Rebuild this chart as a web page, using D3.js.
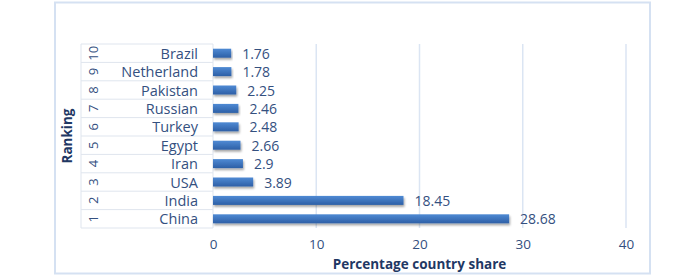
<!DOCTYPE html>
<html>
<head>
<meta charset="utf-8">
<script src="https://cdn.jsdelivr.net/npm/d3@7"></script>
<style>
  html, body { margin: 0; padding: 0; background: #fff; }
  svg { display: block; font-family: "Open Sans", sans-serif; }
</style>
</head>
<body>
<div id="chart"></div>
<script>
// dados (ranking 1 = China, embaixo)
const ranks = [1, 2, 3, 4, 5, 6, 7, 8, 9, 10];
const countries = ['China', 'India', 'USA', 'Iran', 'Egypt', 'Turkey', 'Russian', 'Pakistan', 'Netherland', 'Brazil'];
const shares = [28.68, 18.45, 3.89, 2.9, 2.66, 2.48, 2.46, 2.25, 1.78, 1.76];
const xTicks = [0, 10, 20, 30, 40];

const W = 700, H = 277;
const TEXT = '#34507f';
const TITLE = '#1f3864';
const plot = { left: 213, right: 626, top: 44, bottom: 228 };
const tableLeft = 81;

const svg = d3.select('#chart').append('svg').attr('width', W).attr('height', H);

// sombra dos bars + gradiente
const defs = svg.append('defs');
const grad = defs.append('linearGradient').attr('id', 'barGrad')
  .attr('x1', 0).attr('y1', 0).attr('x2', 0).attr('y2', 1);
grad.append('stop').attr('offset', '0%').attr('stop-color', '#4f8ad4');
grad.append('stop').attr('offset', '100%').attr('stop-color', '#2d5fa6');
const sh = defs.append('filter').attr('id', 'barShadow')
  .attr('x', '-5%').attr('y', '-30%').attr('width', '115%').attr('height', '190%');
sh.append('feDropShadow').attr('dx', 1).attr('dy', 2).attr('stdDeviation', 1.2)
  .attr('flood-color', '#000').attr('flood-opacity', 0.35);

// borda externa
svg.append('rect').attr('x', 55).attr('y', 2.5).attr('width', 595).attr('height', 271)
  .attr('fill', '#fff').attr('stroke', '#d5e1f2').attr('stroke-width', 2);

const x = d3.scaleLinear().domain([0, 40]).range([plot.left, plot.right]);
const y = d3.scaleBand().domain(ranks).range([plot.bottom, plot.top]).paddingInner(0).paddingOuter(0);
const barH = 9;

// gridlines verticais
svg.append('g').selectAll('line').data(xTicks.filter(d => d > 0)).join('line')
  .attr('x1', d => x(d)).attr('x2', d => x(d))
  .attr('y1', plot.top).attr('y2', plot.bottom)
  .attr('stroke', '#dbe5f3').attr('stroke-width', 1.5);

// tabela de categorias (rank + pais)
const table = svg.append('g');
table.selectAll('line.row').data(ranks.concat(['end'])).join('line')
  .attr('class', 'row')
  .attr('x1', tableLeft).attr('x2', plot.left)
  .attr('y1', (d, i) => i < ranks.length ? y(d) + y.bandwidth() : plot.top)
  .attr('y2', (d, i) => i < ranks.length ? y(d) + y.bandwidth() : plot.top)
  .attr('stroke', '#dfe5ee').attr('stroke-width', 1);
[tableLeft, plot.left].forEach(xx => {
  table.append('line').attr('x1', xx).attr('x2', xx)
    .attr('y1', plot.top).attr('y2', plot.bottom)
    .attr('stroke', '#dfe5ee').attr('stroke-width', 1);
});

table.selectAll('text.rank').data(ranks).join('text')
  .attr('class', 'rank')
  .attr('transform', d => `translate(${93},${y(d) + y.bandwidth() / 2}) rotate(-90)`)
  .attr('text-anchor', 'middle').attr('dominant-baseline', 'central')
  .attr('font-size', 13).attr('fill', TEXT)
  .text(d => d);

table.selectAll('text.country').data(ranks).join('text')
  .attr('class', 'country')
  .attr('x', 198).attr('y', d => y(d) + y.bandwidth() / 2)
  .attr('text-anchor', 'end').attr('dominant-baseline', 'central')
  .attr('font-size', 14.5).attr('fill', TEXT)
  .text((d, i) => countries[i]);

// barras
svg.append('g').selectAll('rect').data(ranks).join('rect')
  .attr('x', x(0))
  .attr('y', d => y(d) + y.bandwidth() / 2 - barH / 2)
  .attr('width', (d, i) => x(shares[i]) - x(0))
  .attr('height', barH)
  .attr('fill', 'url(#barGrad)')
  .attr('filter', 'url(#barShadow)');

// rotulos de valor
svg.append('g').selectAll('text').data(ranks).join('text')
  .attr('x', (d, i) => x(shares[i]) + 11)
  .attr('y', d => y(d) + y.bandwidth() / 2)
  .attr('dominant-baseline', 'central')
  .attr('font-size', 14).attr('fill', TEXT)
  .text((d, i) => shares[i]);

// eixo x (so rotulos)
const xAxis = svg.append('g').attr('transform', `translate(0,${plot.bottom})`)
  .call(d3.axisBottom(x).tickValues(xTicks).tickSize(0).tickPadding(11));
xAxis.select('.domain').remove();
xAxis.selectAll('text').attr('font-size', 13.5).attr('fill', TEXT)
  .attr('font-family', '"Open Sans", sans-serif');

// titulos dos eixos
svg.append('text')
  .attr('x', (plot.left + plot.right) / 2).attr('y', 269)
  .attr('text-anchor', 'middle').attr('font-size', 13.5).attr('font-weight', 'bold')
  .attr('fill', TITLE).text('Percentage country share');
svg.append('text')
  .attr('transform', `translate(${72},${(plot.top + plot.bottom) / 2}) rotate(-90)`)
  .attr('text-anchor', 'middle').attr('font-size', 13.5).attr('font-weight', 'bold')
  .attr('fill', TITLE).text('Ranking');
</script>
</body>
</html>
